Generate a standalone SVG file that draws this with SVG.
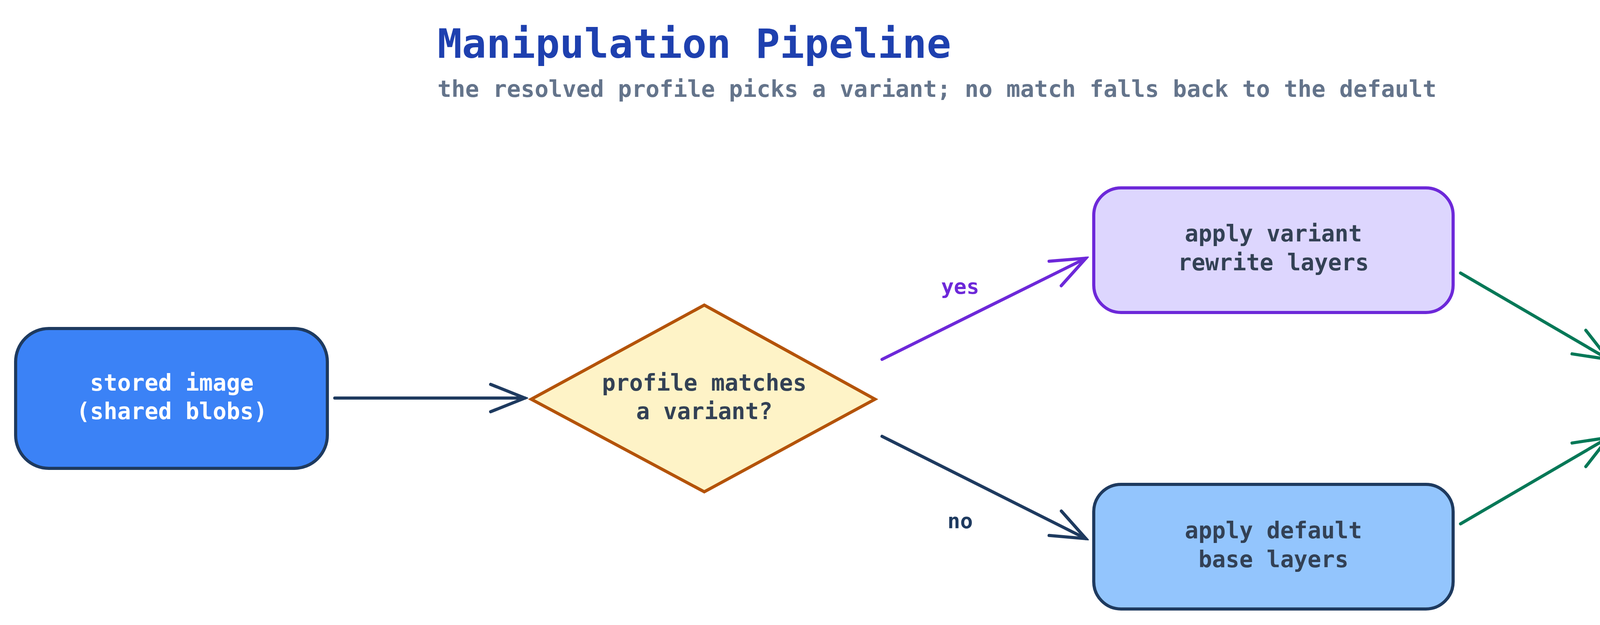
<svg xmlns="http://www.w3.org/2000/svg" width="4960" height="1600" viewBox="0 0 4960 1600">
<style>
text{font-family:"DejaVu Sans Mono","Liberation Mono",monospace;text-anchor:middle;font-weight:bold}
.t{font-size:58px;fill:#334155}
.box{stroke-width:8}
.c{fill:none;stroke-width:8;stroke-linecap:round}
</style>
<defs>
<marker id="aD" viewBox="0 0 100 100" refX="92" refY="50" markerWidth="100" markerHeight="100" markerUnits="userSpaceOnUse" orient="auto"><path d="M4,15 L92,50 L4,85" fill="none" stroke="#1e3a5f" stroke-width="8" stroke-linecap="round"/></marker>
<marker id="aP" viewBox="0 0 100 100" refX="92" refY="50" markerWidth="100" markerHeight="100" markerUnits="userSpaceOnUse" orient="auto"><path d="M4,15 L92,50 L4,85" fill="none" stroke="#6d28d9" stroke-width="8" stroke-linecap="round"/></marker>
<marker id="aG" viewBox="0 0 100 100" refX="92" refY="50" markerWidth="100" markerHeight="100" markerUnits="userSpaceOnUse" orient="auto"><path d="M4,15 L92,50 L4,85" fill="none" stroke="#047857" stroke-width="8" stroke-linecap="round"/></marker>
</defs>
<rect width="4960" height="1600" fill="#ffffff"/>
<text x="1120" y="148" style="font-size:104px;fill:#1e40af;text-anchor:start">Manipulation Pipeline</text>
<text x="1120" y="248" style="font-size:59px;fill:#64748b;text-anchor:start">the resolved profile picks a variant; no match falls back to the default</text>
<g id="connectors">
<line class="c" stroke="#1e3a5f" x1="857" y1="1019" x2="1344" y2="1019" marker-end="url(#aD)"/>
<line class="c" stroke="#6d28d9" x1="2258" y1="920" x2="2780" y2="661" marker-end="url(#aP)"/>
<line class="c" stroke="#1e3a5f" x1="2258" y1="1117" x2="2780" y2="1379" marker-end="url(#aD)"/>
<line class="c" stroke="#047857" x1="3739" y1="699" x2="4118" y2="920" marker-end="url(#aG)"/>
<line class="c" stroke="#047857" x1="3739" y1="1341" x2="4118" y2="1120" marker-end="url(#aG)"/>
<text x="2458" y="752" style="font-size:54px;fill:#6d28d9">yes</text>
<text x="2458" y="1352" style="font-size:54px;fill:#1e3a5f">no</text>
</g>
<g id="stored">
<rect class="box" x="40" y="841" width="798" height="358" rx="85" fill="#3b82f6" stroke="#1e3a5f"/>
<text class="t" x="440" y="1000" style="fill:#ffffff">stored image</text>
<text class="t" x="440" y="1073" style="fill:#ffffff">(shared blobs)</text>
</g>
<g id="decision">
<polygon class="box" points="1360,1022 1803,781 2240,1022 1803,1259" fill="#fef3c7" stroke="#b45309"/>
<text class="t" x="1803" y="1000">profile matches</text>
<text class="t" x="1803" y="1073">a variant?</text>
</g>
<g id="variant">
<rect class="box" x="2800" y="481" width="920" height="319" rx="70" fill="#ddd6fe" stroke="#6d28d9"/>
<text class="t" x="3260" y="618">apply variant</text>
<text class="t" x="3260" y="692">rewrite layers</text>
</g>
<g id="default">
<rect class="box" x="2800" y="1240" width="920" height="319" rx="70" fill="#93c5fd" stroke="#1e3a5f"/>
<text class="t" x="3260" y="1378">apply default</text>
<text class="t" x="3260" y="1452">base layers</text>
</g>
<g id="served">
<rect class="box" x="4118" y="860" width="800" height="320" rx="70" fill="#a7f3d0" stroke="#047857"/>
<text class="t" x="4518" y="998">served manifest</text>
<text class="t" x="4518" y="1072">per profile</text>
</g>
</svg>
